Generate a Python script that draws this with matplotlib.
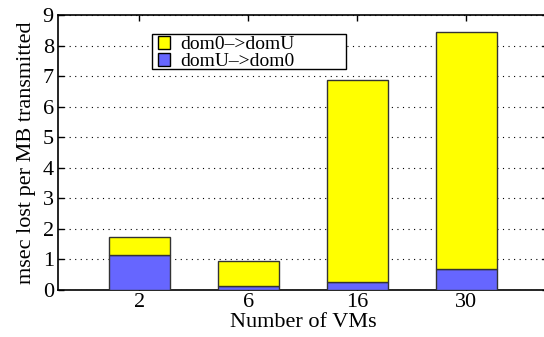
import numpy as np
import matplotlib.pyplot as plt
from matplotlib.patches import Patch, Rectangle

plt.rcParams['font.family'] = ['Liberation Serif', 'DejaVu Serif']

vms = ['2', '6', '16', '30']
dom_u_to_0 = [1.15, 0.13, 0.26, 0.70]
dom_0_to_u = [0.57, 0.81, 6.60, 7.75]

yellow = '#ffff00'
blue = '#6666ff'
edge = '#333333'

fig = plt.figure(figsize=(5.44, 3.37), dpi=100)
ax = fig.add_axes([58 / 544, 1 - 290 / 337, 490 / 544, 275 / 337])

x = np.arange(len(vms))
w = 0.56
ax.bar(x, dom_u_to_0, w, color=blue, edgecolor=edge, linewidth=1, zorder=3)
ax.bar(x, dom_0_to_u, w, bottom=dom_u_to_0, color=yellow, edgecolor=edge,
       linewidth=1, zorder=3)

ax.set_xlim(-0.745, 3.75)
ax.set_ylim(0, 9)
ax.set_xticks(x)
ax.set_xticklabels(vms)
ax.set_yticks(range(10))
ax.tick_params(axis='both', direction='in', labelsize=16, top=True,
               right=True, length=4, width=1)
ax.tick_params(axis='x', pad=2)
ax.tick_params(axis='y', pad=3)
ax.yaxis.grid(True, linestyle=(0, (1, 4)), color='black', linewidth=0.8)
ax.set_axisbelow(True)
for s in ax.spines.values():
    s.set_linewidth(1.2)

ax.set_xlabel('Number of VMs', fontsize=16, labelpad=1)
ax.set_ylabel('msec lost per MB transmitted', fontsize=16, labelpad=5)

# gnuplot-style key box, wider than its text
ax.add_patch(Rectangle((0.192, 0.804), 0.396, 0.127, transform=ax.transAxes,
                       facecolor='white', edgecolor='black', linewidth=1,
                       zorder=4))
handles = [Patch(facecolor=yellow, edgecolor='black', label='dom0\u2013>domU'),
           Patch(facecolor=blue, edgecolor='black', label='domU\u2013>dom0')]
leg = ax.legend(handles=handles, loc='upper left', bbox_to_anchor=(0.197, 0.937),
                fontsize=14, handlelength=0.6, handleheight=0.6,
                handletextpad=0.5, labelspacing=0.0, borderpad=0.2,
                borderaxespad=0, frameon=False)
leg.set_zorder(5)

fig.savefig('out.png', dpi=100)
